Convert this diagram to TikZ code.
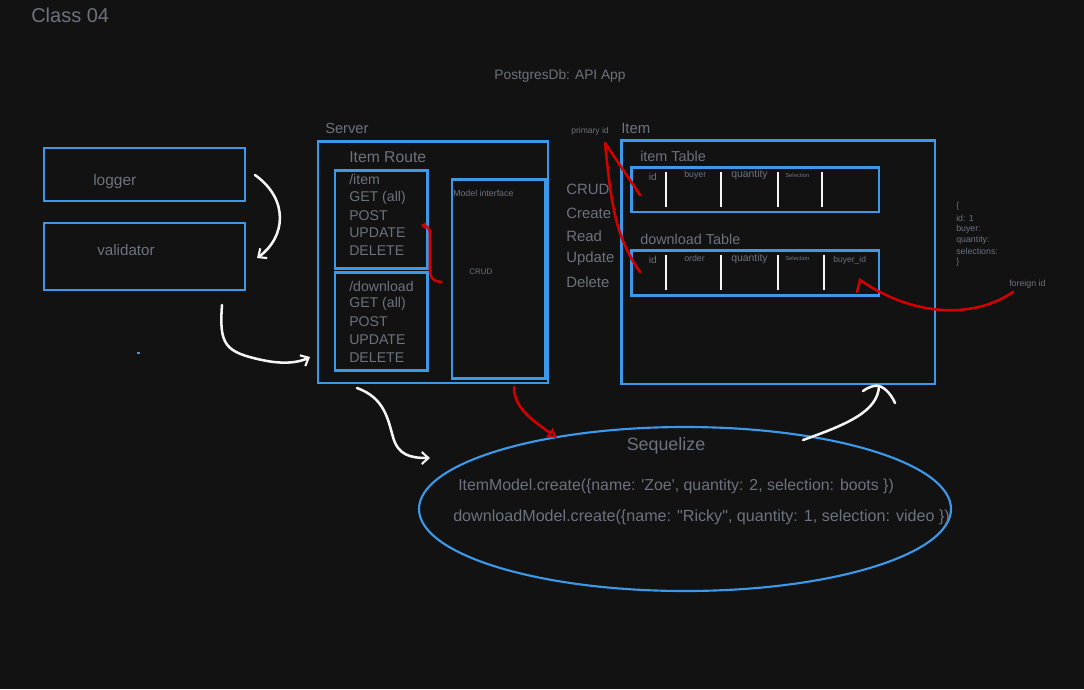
\documentclass[tikz,border=0pt]{standalone}
\usepackage{fontspec}
\setmainfont{Liberation Sans}[Ligatures=TeXOff]
\usetikzlibrary{arrows.meta,fit,shapes.geometric}
\definecolor{bg}{RGB}{18,18,18}
\definecolor{bl}{RGB}{60,152,232}
\definecolor{tx}{RGB}{108,114,126}
\definecolor{rd}{RGB}{212,0,0}
\definecolor{wh}{RGB}{245,245,245}
\begin{document}
\begin{tikzpicture}[x=0.75pt,y=-0.75pt,
  box/.style={draw=bl,line width=1.9pt,inner sep=0pt},
  lbl/.style={text=tx,anchor=west,inner sep=0pt,font=\fontsize{#1}{#1}\selectfont},
  clbl/.style={text=tx,anchor=center,inner sep=0pt,font=\fontsize{#1}{#1}\selectfont},
  wline/.style={draw=wh,line width=1.9pt,line cap=round},
  rline/.style={draw=rd,line width=1.9pt,line cap=round},
  divider/.style={draw=wh,line width=2pt},
  wtip/.style={-{Straight Barb[length=5pt,width=9pt,line width=1.6pt]}},
]
\fill[bg] (0,0) rectangle (1084,689);
\useasboundingbox (0,0) rectangle (1084,689);

% titles
\node[lbl=15pt] (title) at (31,15) {Class 04};
\node[clbl=10.3pt] (sub) at (560,76) {PostgresDb: API App};

% left boxes
\node[box,fit={(44,148)(245,201)}] (logger) {};
\node[lbl=11.6pt] (loggert) at (93,181) {logger};
\node[box,fit={(44,223)(245,290)}] (validator) {};
\node[lbl=11.4pt] (validatort) at (97,250) {validator};
\fill[bl] (136.5,351.5) rectangle (139.5,354) coordinate (dot);

% server
\node[lbl=11pt] (servert) at (325,128) {Server};
\node[box,fit={(318,141.5)(548,383)}] (server) {};
\node[lbl=11.8pt] (routet) at (349,157) {Item Route};
\node[box,fit={(335,170.5)(427.5,268.5)}] (itembox) {};
\node[box,fit={(335,272.5)(427.5,370.5)}] (dlbox) {};
\node[lbl=10.6pt] (ir1) at (349,179) {/item};
\node[lbl=10.6pt] (ir2) at (349,198) {GET (all)};
\node[lbl=10.6pt] (ir3) at (349,215.5) {POST};
\node[lbl=10.6pt] (ir4) at (349,233) {UPDATE};
\node[lbl=10.6pt] (ir5) at (349,251) {DELETE};
\node[lbl=10.6pt] (dr1) at (349,286) {/download};
\node[lbl=10.6pt] (dr2) at (349,304) {GET (all)};
\node[lbl=10.6pt] (dr3) at (349,322) {POST};
\node[lbl=10.6pt] (dr4) at (349,340) {UPDATE};
\node[lbl=10.6pt] (dr5) at (349,357.5) {DELETE};
\node[box,fit={(452,179.5)(545.5,378.5)}] (model) {};
\node[lbl=6.6pt] (modelt) at (453,193) {Model interface};
\node[lbl=6pt] (modelcrud) at (469,272) {CRUD};

% CRUD list
\node[lbl=11.2pt] (cr1) at (566,189) {CRUD};
\node[lbl=11.2pt] (cr2) at (566,213) {Create};
\node[lbl=11.2pt] (cr3) at (566,236) {Read};
\node[lbl=11.2pt] (cr4) at (566,259) {Update};
\node[lbl=11.2pt] (cr5) at (566,282.5) {Delete};

% item group
\node[lbl=6.4pt] (primt) at (571,131.5) {primary id};
\node[lbl=11.2pt] (itemt) at (621,128.5) {Item};
\node[box,fit={(621.5,140.5)(935,384)}] (itemgrp) {};
\node[lbl=10.8pt] (itabt) at (640,156) {item Table};
\node[box,fit={(631.5,167.5)(879,212)}] (itab) {};
\node[lbl=10.8pt] (dtabt) at (640,239.5) {download Table};
\node[box,fit={(631.5,250.5)(879,295.5)}] (dtab) {};
\foreach \x in {666,721,778,822} \draw[divider] (\x,172) -- (\x,207);
\foreach \x in {666,721,778,824} \draw[divider] (\x,254.5) -- (\x,289.5);
\node[lbl=7.6pt] (h1) at (648.5,177) {id};
\node[lbl=6.6pt] (h2) at (684,175.5) {buyer};
\node[lbl=7.8pt] (h3) at (731,175) {quantity};
\node[lbl=4.4pt] (h4) at (785,175) {Selection};
\node[lbl=7.6pt] (g1) at (648.5,260) {id};
\node[lbl=6.6pt] (g2) at (684,258.5) {order};
\node[lbl=7.8pt] (g3) at (731,258.5) {quantity};
\node[lbl=4.4pt] (g4) at (785,258) {Selection};
\node[lbl=6.4pt] (g5) at (833,260) {buyer\_id};

% json
\node[lbl=6.6pt] (js1) at (956,206.5) {\{};
\node[lbl=6.6pt] (js2) at (956,218) {id: 1};
\node[lbl=6.6pt] (js3) at (956,229.3) {buyer:};
\node[lbl=6.6pt] (js4) at (956,240.3) {quantity:};
\node[lbl=6.6pt] (js5) at (956,251.3) {selections:};
\node[lbl=6.6pt] (js6) at (956,262) {\}};
\node[lbl=6.6pt] (fort) at (1009,284.5) {foreign id};

% sequelize
\node[draw=bl,line width=1.6pt,ellipse,minimum width=399pt,minimum height=123pt,inner sep=0pt] (seq) at (685,509) {};
\node[clbl=13.4pt] (seqt) at (666,446) {Sequelize};
\node[lbl=11.9pt] (seq1) at (458,486) {ItemModel.create(\{name: 'Zoe', quantity: 2, selection: boots \})};
\node[lbl=12.1pt] (seq2) at (453,517) {downloadModel.create(\{name: "Ricky", quantity: 1, selection: video \})};

% connector end points
\coordinate (w1s) at (255,175);
\coordinate (w1e) at (257,258);
\coordinate (w2s) at (222,305);
\coordinate (w2e) at (310,357);
\coordinate (w3s) at (357,388);
\coordinate (w3e) at (430,458);
\coordinate (w4s) at (803,440);
\coordinate (w4e) at (879,386);
\coordinate (r1s) at (514,387);
\coordinate (r1e) at (557,438);
\coordinate (r2s) at (441.5,282);
\coordinate (r2e) at (421,225);
\coordinate (p0) at (605,143);
\coordinate (p1) at (640,195);
\coordinate (p2) at (640,272);
\coordinate (f0) at (1013,292);
\coordinate (f1) at (860,280);
\coordinate (f2) at (857,292);

% white arrows
\draw[wline,wtip] (w1s) .. controls (290,200) and (285,238) .. (w1e);
\draw[wline,wtip] (w2s) .. controls (219,345) and (225,352) .. (262,360) .. controls (285,365) and (300,362) .. (w2e);
\draw[wline,wtip] (w3s) .. controls (385,398) and (388,420) .. (393,437) .. controls (398,455) and (410,458) .. (w3e);
\draw[wline] (w4s) .. controls (845,425) and (878,412) .. (w4e);
\draw[wline] (863,391) .. controls (870,386) and (876,385) .. (w4e) .. controls (886,388) and (892,396) .. (895,403);

% red arrows
\draw[rline,-{Triangle[open,length=7pt,width=8pt,line width=1.6pt]}] (r1s) .. controls (514,408) and (532,420) .. (r1e);
\draw[rline,-{Straight Barb[length=2.5pt,width=4pt,line width=1.4pt]}] (r2s) .. controls (428,281) and (430,272) .. (430,262) -- (430,234) .. controls (430,228) and (427,226) .. (r2e);
\draw[rline] (p0) -- (p1);
\draw[rline] (p0) .. controls (611,200) and (614,235) .. (p2);
\draw[rline] (f0) .. controls (975,318) and (915,318) .. (f1) -- (f2);
\end{tikzpicture}
\end{document}
